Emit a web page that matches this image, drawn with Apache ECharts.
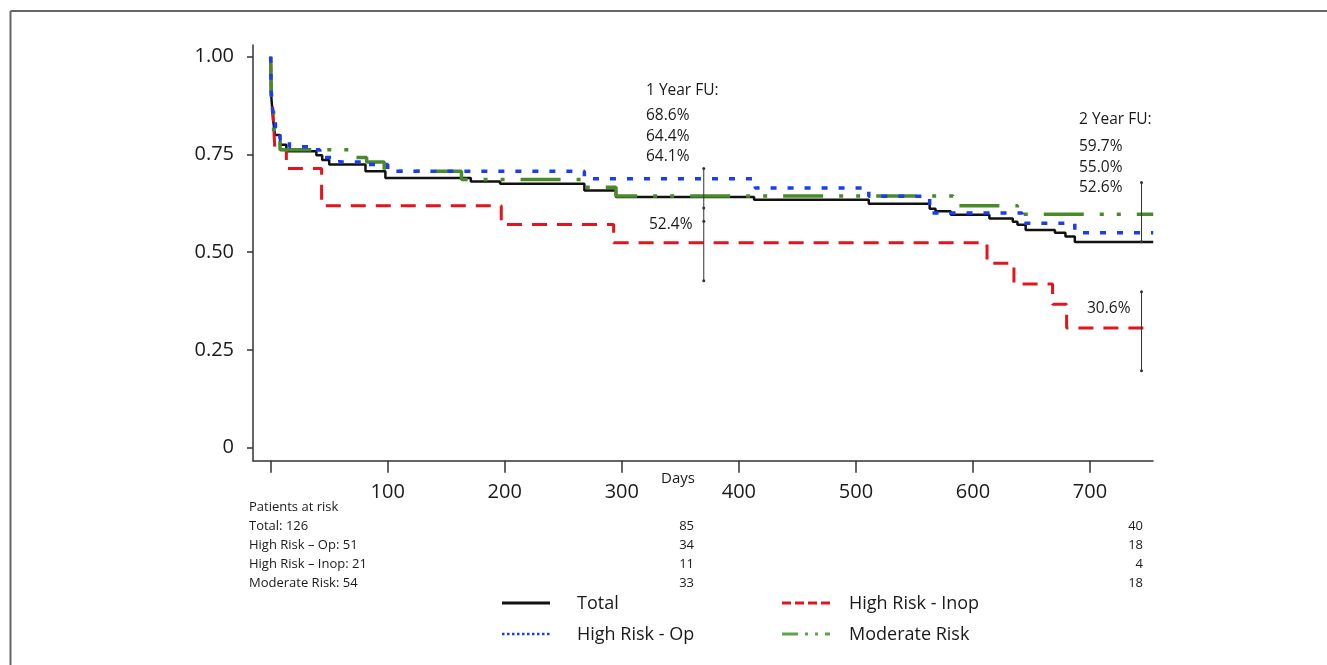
<!DOCTYPE html>
<html>
<head>
<meta charset="utf-8">
<script src="https://cdn.jsdelivr.net/npm/echarts@6/dist/echarts.min.js"></script>
<style>
html,body{margin:0;padding:0;background:#fff;}
#c{width:1327px;height:665px;}
</style>
</head>
<body>
<div id="c"></div>
<script>
// ---- data (day, survival probability) ----
const totalData = [[0,1.00],[0.5,0.90],[2,0.84],[3.7,0.80],[8,0.775],[13.4,0.758],[39,0.748],[44,0.736],[50,0.724],[81,0.707],[98,0.690],[171,0.681],[196,0.675],[268,0.658],[295,0.641],[413,0.634],[511,0.624],[563,0.611],[568,0.605],[581,0.596],[614,0.586],[634,0.578],[638,0.570],[645,0.557],[670,0.550],[679,0.540],[687,0.526],[754,0.526]];
const opData = [[0,1.00],[0.4,0.916],[2,0.847],[4,0.806],[8,0.790],[16,0.770],[33,0.762],[42,0.742],[59,0.731],[82,0.724],[100,0.707],[268,0.688],[414,0.664],[511,0.643],[563,0.600],[642,0.574],[687,0.550],[754,0.550]];
const inopData = [[0,1.00],[0.5,0.905],[2,0.857],[3.6,0.762],[13.4,0.714],[43.5,0.619],[197,0.571],[293,0.524],[612,0.472],[635,0.419],[668,0.367],[680,0.306],[754,0.306]];
const modData = [[0,1.00],[0.6,0.872],[2.5,0.790],[5,0.783],[8,0.762],[70,0.742],[82,0.731],[97,0.707],[163,0.686],[268,0.666],[295,0.644],[583,0.619],[638,0.597],[754,0.597]];

// confidence bars
const ci1Day = 370, ci1Vals = [0.714, 0.613, 0.579, 0.427];
const ci2Day = 744, ci2aVals = [0.678, 0.527], ci2bVals = [0.399, 0.197];

// tick labels
const yTicks = [0, 0.25, 0.5, 0.75, 1];
const xTicks = [0, 100, 200, 300, 400, 500, 600, 700];
const xLabels = [100, 200, 300, 400, 500, 600, 700];

// annotations
const fu1Title = '1 Year FU:', fu1Vals = ['68.6%', '64.4%', '64.1%'], fu1Inop = '52.4%';
const fu2Title = '2 Year FU:', fu2Vals = ['59.7%', '55.0%', '52.6%'], fu2Inop = '30.6%';

// patients at risk
const riskTitle = 'Patients at risk';
const riskGroups = ['Total', 'High Risk \u2013 Op', 'High Risk \u2013 Inop', 'Moderate Risk'];
const riskStart = [126, 51, 21, 54];
const risk1yr = [85, 34, 11, 33];
const risk2yr = [40, 18, 4, 18];

// legend
const legendNames = ['Total', 'High Risk - Inop', 'High Risk - Op', 'Moderate Risk'];

const FONT = '"Open Sans", "Liberation Sans", sans-serif';
const TXT = '#1a1a1a';
const C_BLACK = '#111', C_RED = '#e3141c', C_BLUE = '#1a3cf5', C_GREEN = '#4a8a2a';

const chart = echarts.init(document.getElementById('c'));

function ciSeries(day, vals) {
  return {
    type: 'line', data: vals.map(v => [day, v]), silent: true,
    symbol: 'circle', symbolSize: 3, showSymbol: true,
    lineStyle: {color: '#333', width: 1}, itemStyle: {color: '#333'}, z: 5
  };
}

const graphic = [];
// frame
graphic.push({type:'line', shape:{x1:10.5,y1:11,x2:1327,y2:11}, style:{stroke:'#666', lineWidth:2}, silent:true});
graphic.push({type:'line', shape:{x1:10.5,y1:11,x2:10.5,y2:665}, style:{stroke:'#666', lineWidth:2}, silent:true});

function txt(x, y, text, size, align) {
  graphic.push({type:'text', x:x, y:y, silent:true,
    style:{text:text, font: size + 'px ' + FONT, fill:TXT, align: align || 'left', verticalAlign:'middle'}});
}
// Days
txt(661, 479, 'Days', 15);
// 1 year annotation
txt(646, 91, fu1Title, 15.5);
fu1Vals.forEach((v, i) => txt(646, 116 + i * 20.5, v, 15.5));
txt(649, 225, fu1Inop, 15.5);
// 2 year annotation
txt(1079, 120, fu2Title, 15.5);
fu2Vals.forEach((v, i) => txt(1079, 147 + i * 20.5, v, 15.5));
txt(1087, 309, fu2Inop, 15.5);
// risk table
txt(249, 507, riskTitle, 13);
riskGroups.forEach((g, i) => {
  const y = 526 + i * 19;
  txt(249, y, g + ': ' + riskStart[i], 13);
  txt(694, y, String(risk1yr[i]), 13, 'right');
  txt(1143, y, String(risk2yr[i]), 13, 'right');
});
// legend
const legStyles = [
  {stroke:C_BLACK, lineWidth:3},
  {stroke:C_RED, lineWidth:3, lineDash:[9,4]},
  {stroke:C_BLUE, lineWidth:2.5, lineDash:[2.5,2.5]},
  {stroke:'#5aa845', lineWidth:3, lineDash:[16,7,3,7,3,7]}
];
const legPos = [[502,603],[782,603],[502,634],[782,634]];
legendNames.forEach((n, i) => {
  const [lx, ly] = legPos[i];
  graphic.push({type:'line', silent:true, shape:{x1:lx,y1:ly,x2:lx+48,y2:ly}, style:legStyles[i]});
  txt(lx + (i % 2 === 0 ? 75 : 67), ly + 1, n, 18);
});

const option = {
  animation: false,
  backgroundColor: '#fff',
  grid: {left: 253, right: 174, top: 45, bottom: 204.3, containLabel: false},
  xAxis: {
    type: 'value', min: -15.1, max: 753.8,
    axisLine: {show: true, onZero: false, lineStyle: {color: '#333', width: 1.5}},
    axisTick: {show: true, customValues: xTicks, length: 12, inside: false, lineStyle: {color: '#333', width: 1.5}},
    axisLabel: {show: true, customValues: xLabels, margin: 22, fontSize: 20, color: TXT, fontFamily: FONT},
    splitLine: {show: false}
  },
  yAxis: {
    type: 'value', min: -0.0332, max: 1.0299,
    axisLine: {show: true, onZero: false, lineStyle: {color: '#333', width: 1.5}},
    axisTick: {show: true, customValues: yTicks, length: 6, inside: false, lineStyle: {color: '#333', width: 1.5}},
    axisLabel: {show: true, customValues: yTicks, margin: 19, fontSize: 20, color: TXT, fontFamily: FONT,
      formatter: v => (Math.abs(v) < 1e-9 ? '0' : v.toFixed(2))},
    splitLine: {show: false}
  },
  series: [
    {name: 'Total', type: 'line', step: 'end', data: totalData, showSymbol: false, silent: true,
      lineStyle: {color: C_BLACK, width: 2.5}, z: 2},
    {name: 'High Risk - Inop', type: 'line', step: 'end', data: inopData, showSymbol: false, silent: true,
      lineStyle: {color: C_RED, width: 3, type: [15, 10]}, z: 3},
    {name: 'Moderate Risk', type: 'line', step: 'end', data: modData, showSymbol: false, silent: true,
      lineStyle: {color: C_GREEN, width: 3.5, type: [40, 16, 4, 13, 4, 16]}, z: 3},
    {name: 'High Risk - Op', type: 'line', step: 'end', data: opData, showSymbol: false, silent: true,
      lineStyle: {color: C_BLUE, width: 3.5, type: [6, 11]}, z: 4},
    ciSeries(ci1Day, ci1Vals),
    ciSeries(ci2Day, ci2aVals),
    ciSeries(ci2Day, ci2bVals)
  ],
  graphic: graphic
};
chart.setOption(option);
</script>
</body>
</html>
